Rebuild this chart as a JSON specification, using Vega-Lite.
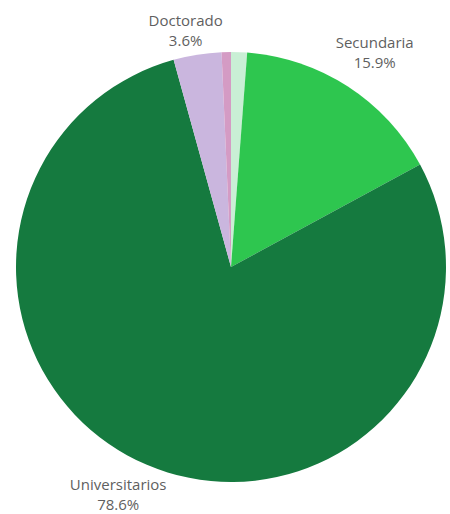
{
  "$schema": "https://vega.github.io/schema/vega-lite/v6.json",
  "autosize": {"type": "none"},
  "width": 438,
  "height": 494,
  "padding": {"left": 12, "right": 0, "top": 20, "bottom": 0},
  "background": "white",
  "view": {"stroke": null},
  "data": {
    "values": [
      {"nivel": "Primaria", "pct": 1.2, "orden": 1, "label": ""},
      {"nivel": "Secundaria", "pct": 15.9, "orden": 2, "label": "Secundaria\n15.9%"},
      {"nivel": "Universitarios", "pct": 78.6, "orden": 3, "label": "Universitarios\n78.6%"},
      {"nivel": "Doctorado", "pct": 3.6, "orden": 4, "label": "Doctorado\n3.6%"},
      {"nivel": "Otros", "pct": 0.7, "orden": 5, "label": ""}
    ]
  },
  "encoding": {
    "theta": {"field": "pct", "type": "quantitative", "stack": true},
    "order": {"field": "orden", "type": "quantitative", "sort": "ascending"}
  },
  "layer": [
    {
      "mark": {"type": "arc", "outerRadius": 215},
      "encoding": {
        "color": {
          "field": "nivel",
          "type": "nominal",
          "scale": {
            "domain": ["Primaria", "Secundaria", "Universitarios", "Doctorado", "Otros"],
            "range": ["#c9efd5", "#2ec64f", "#157a3f", "#cab6de", "#d49bc4"]
          },
          "legend": null
        }
      }
    },
    {
      "mark": {"type": "text", "radius": 239, "dx": -8, "dy": -10, "fontSize": 15, "lineHeight": 20, "font": "Open Sans", "color": "#5f5f5f", "lineBreak": "\n", "align": "center", "baseline": "middle"},
      "encoding": {"text": {"condition": {"test": "datum.nivel === 'Doctorado'", "field": "label"}, "value": ""}}
    },
    {
      "mark": {"type": "text", "radius": 255, "dx": 5, "dy": -10, "fontSize": 15, "lineHeight": 20, "font": "Open Sans", "color": "#5f5f5f", "lineBreak": "\n", "align": "center", "baseline": "middle"},
      "encoding": {"text": {"condition": {"test": "datum.nivel === 'Secundaria'", "field": "label"}, "value": ""}}
    },
    {
      "mark": {"type": "text", "radius": 250, "dx": -15, "dy": -12, "fontSize": 15, "lineHeight": 20, "font": "Open Sans", "color": "#5f5f5f", "lineBreak": "\n", "align": "center", "baseline": "middle"},
      "encoding": {"text": {"condition": {"test": "datum.nivel === 'Universitarios'", "field": "label"}, "value": ""}}
    }
  ]
}
